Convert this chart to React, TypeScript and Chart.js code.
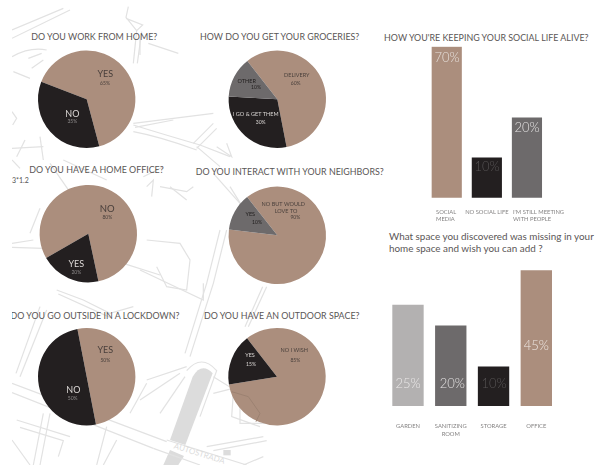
import React, { useEffect, useRef } from "react";
import { Chart, registerables } from "chart.js";

Chart.register(...registerables);

const TAN = "#ab8e7d";
const DARK = "#231f20";
const GREY = "#6d6a6b";
const LIGHT = "#b3b1b1";
const FONT = "Lato, 'Open Sans', sans-serif";

// Pie data: slice shares, printed labels as written in it
const workLabels = ["YES", "NO"];
const workShares = [65, 35];
const workPrinted = ["65%", "35%"];

const groceryLabels = ["DELIVERY", "I GO & GET THEM", "OTHER"];
const groceryShares = [57.5, 29, 13.5];
const groceryPrinted = ["60%", "30%", "10%"];

const officeLabels = ["NO", "YES"];
const officeShares = [80, 20];
const officePrinted = ["80%", "20%"];

const neighborLabels = ["NO BUT WOULD LOVE TO", "YES"];
const neighborShares = [87.5, 12.5];
const neighborPrinted = ["90%", "10%"];

const outsideLabels = ["YES", "NO"];
const outsideShares = [50, 50];
const outsidePrinted = ["50%", "50%"];

const outdoorLabels = ["NO I WISH", "YES"];
const outdoorShares = [83, 17];
const outdoorPrinted = ["85%", "15%"];

// Bar data
const socialCategories = [["SOCIAL", "MEDIA"], "NO SOCIAL LIFE", ["I'M STILL MEETING", "WITH PEOPLE"]];
const socialHeights = [70, 18.5, 37];
const socialPrinted = ["70%", "10%", "20%"];

const spaceCategories = ["GARDEN", ["SANITIZING", "ROOM"], "STORAGE", "OFFICE"];
const spaceHeights = [33.5, 26.6, 13, 45];
const spacePrinted = ["25%", "20%", "10%", "45%"];

type T = { text: string; x: number; y: number; size: number; color: string; weight?: number };

const textPlugin = {
  id: "pageText",
  afterDatasetsDraw(chart: any, _a: any, opts: any) {
    const ctx = chart.ctx;
    ctx.save();
    ctx.textAlign = "center";
    ctx.textBaseline = "middle";
    for (const t of (opts.items || []) as T[]) {
      ctx.font = `${t.weight || 400} ${t.size}px ${FONT}`;
      ctx.fillStyle = t.color;
      ctx.fillText(t.text, t.x, t.y);
    }
    ctx.restore();
  },
};

// Moves chosen axis labels so they start at the left edge the reference gives them
const tickLeftPlugin = {
  id: "tickLeft",
  beforeDraw(chart: any, _a: any, opts: any) {
    const lefts: (number | null)[] = opts.lefts || [];
    const items = chart.scales.x.getLabelItems();
    items.forEach((it: any, i: number) => {
      if (lefts[i] != null) {
        it.options.textAlign = "left";
        it.options.translation[0] = lefts[i];
      }
    });
  },
};

const INK = "#4a403c";
const PALE = "#dcd8d6";

function pie(cx: number, cy: number, rotation: number, labels: string[], data: number[], colors: string[], items: T[]) {
  const r = 48.7;
  return {
    type: "pie",
    data: { labels, datasets: [{ data, backgroundColor: colors, borderWidth: 0 }] },
    options: {
      animation: false,
      responsive: false,
      rotation,
      layout: { padding: { left: cx - r, top: cy - r, right: 600 - cx - r, bottom: 465 - cy - r } },
      plugins: { legend: { display: false }, tooltip: { enabled: false }, pageText: { items } },
    },
    plugins: [textPlugin],
  };
}

function bar(
  left: number, right: number, top: number, bottom: number, max: number, thickness: number,
  labels: any[], data: number[], colors: string[], tickPad: number, lefts: (number | null)[], items: T[]
) {
  const axisH = 30;
  return {
    type: "bar",
    data: { labels, datasets: [{ data, backgroundColor: colors, barThickness: thickness, borderWidth: 0 }] },
    options: {
      animation: false,
      responsive: false,
      layout: { padding: { left, top, right: 600 - right, bottom: 465 - bottom - axisH } },
      scales: {
        y: { display: false, min: 0, max },
        x: {
          grid: { display: false },
          border: { display: false },
          afterFit: (s: any) => { s.height = axisH; },
          ticks: {
            autoSkip: false, maxRotation: 0, minRotation: 0, padding: tickPad,
            color: "#858383", font: { family: FONT, size: 5.8, lineHeight: 1.25 },
          },
        },
      },
      plugins: { legend: { display: false }, tooltip: { enabled: false }, pageText: { items }, tickLeft: { lefts } },
    },
    plugins: [textPlugin, tickLeftPlugin],
  };
}

const configs: any[] = [
  pie(86.7, 99.3, 291, workLabels, workShares, [TAN, DARK], [
    { text: workLabels[0], x: 105.3, y: 74.3, size: 9, color: INK },
    { text: workPrinted[0], x: 105, y: 83.3, size: 5, color: INK },
    { text: workLabels[1], x: 72.3, y: 114, size: 9, color: PALE },
    { text: workPrinted[1], x: 72.3, y: 121.7, size: 5, color: "#8d8a8a" },
  ]),
  pie(277.3, 99.3, 322, groceryLabels, groceryShares, [TAN, DARK, GREY], [
    { text: groceryLabels[0], x: 296.7, y: 75, size: 5.5, color: INK },
    { text: groceryPrinted[0], x: 295.7, y: 83.3, size: 5, color: INK },
    { text: groceryLabels[1], x: 255.7, y: 114.3, size: 5.5, color: PALE },
    { text: groceryPrinted[1], x: 260.7, y: 122, size: 5, color: PALE },
    { text: groceryLabels[2], x: 246.7, y: 81, size: 5.5, color: "#1f1c1c" },
    { text: groceryPrinted[2], x: 256, y: 87.7, size: 5, color: "#1f1c1c" },
  ]),
  pie(88.3, 233.7, 240, officeLabels, officeShares, [TAN, DARK], [
    { text: officeLabels[0], x: 107.3, y: 208.7, size: 9.5, color: INK },
    { text: officePrinted[0], x: 107.3, y: 217.3, size: 5, color: INK },
    { text: officeLabels[1], x: 76.3, y: 264.3, size: 9, color: PALE },
    { text: officePrinted[1], x: 76.3, y: 272, size: 5, color: "#8d8a8a" },
  ]),
  pie(277.3, 235.3, 321.7, neighborLabels, neighborShares, [TAN, GREY], [
    { text: "NO BUT WOULD", x: 283.3, y: 204.3, size: 5.5, color: INK },
    { text: "LOVE TO", x: 286, y: 211.7, size: 5.5, color: INK },
    { text: neighborPrinted[0], x: 295.3, y: 217.7, size: 5, color: INK },
    { text: neighborLabels[1], x: 250.3, y: 214.3, size: 5.5, color: "#1f1c1c" },
    { text: neighborPrinted[1], x: 257, y: 222.7, size: 5, color: "#1f1c1c" },
  ]),
  pie(86.7, 376.7, 349, outsideLabels, outsideShares, [TAN, DARK], [
    { text: outsideLabels[0], x: 105.3, y: 350.3, size: 9, color: INK },
    { text: outsidePrinted[0], x: 105.3, y: 360, size: 5, color: INK },
    { text: outsideLabels[1], x: 73.3, y: 390.3, size: 9, color: PALE },
    { text: outsidePrinted[1], x: 72.7, y: 398.3, size: 5, color: "#8d8a8a" },
  ]),
  pie(277, 376.7, 322, outdoorLabels, outdoorShares, [TAN, DARK], [
    { text: outdoorLabels[0], x: 294.3, y: 350.3, size: 5.5, color: INK },
    { text: outdoorPrinted[0], x: 295.3, y: 360, size: 5, color: INK },
    { text: outdoorLabels[1], x: 250, y: 355, size: 5.5, color: PALE },
    { text: outdoorPrinted[1], x: 251, y: 364.3, size: 5, color: PALE },
  ]),
  bar(426.7, 547, 46.7, 197.7, 70, 29.5, socialCategories, socialHeights, [TAN, DARK, GREY], 3, [436, null, 513], [
    { text: socialPrinted[0], x: 447, y: 58, size: 13, color: "#e6dfda", weight: 300 },
    { text: socialPrinted[1], x: 487, y: 167, size: 13, color: "#565354", weight: 300 },
    { text: socialPrinted[2], x: 527, y: 128, size: 13, color: "#e2e0e0", weight: 300 },
  ]),
  bar(386.6, 557.7, 270.3, 406, 45, 30.7, spaceCategories, spaceHeights, [LIGHT, GREY, DARK, TAN], 9, [], [
    { text: spacePrinted[0], x: 408, y: 384, size: 13, color: "#e9e7e7", weight: 300 },
    { text: spacePrinted[1], x: 452.3, y: 384, size: 13, color: "#e2e0e0", weight: 300 },
    { text: spacePrinted[2], x: 494, y: 384, size: 13, color: "#565354", weight: 300 },
    { text: spacePrinted[3], x: 536.3, y: 345.7, size: 13, color: "#eee7e2", weight: 300 },
  ]),
];

const titles = [
  { text: "DO YOU WORK FROM HOME?", cx: 94.3, y: 36 },
  { text: "HOW DO YOU GET YOUR GROCERIES?", cx: 279.7, y: 36 },
  { text: "DO YOU HAVE A HOME OFFICE?", cx: 96.5, y: 169.3 },
  { text: "DO YOU INTERACT WITH YOUR NEIGHBORS?", cx: 289.7, y: 171 },
  { text: "DO YOU GO OUTSIDE IN A LOCKDOWN?", cx: 95, y: 315.3 },
  { text: "DO YOU HAVE AN OUTDOOR SPACE?", cx: 281.7, y: 315.3 },
  { text: "HOW YOU'RE KEEPING YOUR SOCIAL LIFE ALIVE?", cx: 486.3, y: 36.7 },
];

// Background street map, traced in 3x coordinates
const roads = [
  "M36 90 L190 25", "M36 115 L210 30", "M385 20 L378 52 L410 92 L428 75 L378 55", "M410 92 L400 190", "M425 95 L412 190",
  "M36 170 Q90 140 140 150", "M85 175 L125 160", "M95 205 L130 180", "M40 215 L90 235", "M445 130 L535 160", "M420 165 L420 110",
  "M400 370 L640 340", "M405 382 L520 360", "M400 375 Q480 400 600 435 L690 470", "M400 395 Q480 410 590 450",
  "M580 430 L640 370", "M590 445 L650 385", "M590 440 L660 500", "M650 440 L695 470 L680 430",
  "M36 445 L130 440", "M50 470 L75 420", "M120 410 L130 480", "M36 335 L50 355 L38 375", "M36 480 L60 505",
  "M150 490 L240 620", "M190 480 L320 540", "M480 560 L560 575 L580 560", "M510 560 L560 600", "M440 560 L460 540 L455 590",
  "M430 530 L490 500", "M640 520 L720 610 L700 700", "M690 560 L740 640", "M90 700 L120 625",
  "M680 690 L640 850 L570 1070", "M660 690 L620 850 L555 1060", "M800 860 L745 980", "M788 860 L735 980",
  "M36 730 L100 720", "M36 742 L130 745", "M370 790 L480 825", "M440 720 L540 730 L570 780 L560 870 L500 860 L470 800",
  "M420 810 L610 900 L610 850", "M170 870 L250 900 L330 940 L400 920", "M175 882 L330 952",
  "M36 1150 L500 1325", "M36 1178 L460 1345", "M500 1320 L740 1395", "M460 1345 L600 1395",
  "M140 930 L60 1130", "M120 920 L48 1120", "M130 1240 L100 1395", "M150 1240 L120 1395",
  "M50 1260 L210 1310", "M60 1282 L190 1322 L175 1370", "M320 1280 L290 1395", "M350 1320 L310 1395",
  "M560 1112 Q605 1060 650 1112 L600 1250", "M440 1140 L560 1100", "M420 1200 L540 1120", "M480 1240 L555 1130", "M640 1180 L720 1160",
  "M640 1130 L720 1180 L720 1270 L800 1270", "M700 1180 L695 1250 L780 1280", "M620 1340 L790 1310", "M640 1352 L800 1322",
  "M730 1395 L790 1370", "M36 1320 L90 1395", "M390 1240 L440 1150",
];
const blocks = ["M578 1130 Q605 1085 638 1120 L556 1335 L510 1320 Z", "M490 1395 L510 1350 L552 1368 L535 1395 Z", "M670 1350 L692 1350 L692 1366 L670 1366 Z"];
const overPie = "M695 1175 L745 1190 L780 1240 L768 1265";

export default function App() {
  const refs = useRef<(HTMLCanvasElement | null)[]>([]);
  useEffect(() => {
    const charts = configs.map((c, i) => new Chart(refs.current[i] as HTMLCanvasElement, c));
    return () => charts.forEach((c) => c.destroy());
  }, []);
  const titleStyle: React.CSSProperties = {
    position: "absolute", transform: "translate(-50%,-50%)", whiteSpace: "nowrap",
    fontFamily: FONT, fontSize: 8.9, color: "#5a5656",
  };
  const full: React.CSSProperties = { position: "absolute", left: 0, top: 0, width: 600, height: 465 };
  return (
    <div style={{ ...full, overflow: "hidden", background: "#fff", filter: "blur(0.5px)" }}>
      <div style={{ position: "absolute", left: 12, top: 0, width: 378, height: 465, overflow: "hidden" }}>
        <svg width={378} height={465} viewBox="36 0 1134 1395" style={{ position: "absolute", left: 0, top: 0 }}>
          {blocks.map((d, i) => <path key={i} d={d} fill="#dcdcdc" />)}
          {roads.map((d, i) => <path key={i} d={d} fill="none" stroke="#e2e2e2" strokeWidth={3.6} />)}
          <text x={520} y={1345} transform="rotate(17 520 1345)" fontFamily={FONT} fontSize={24} fill="#dcdcdc">AUTOSTRADA</text>
        </svg>
        {titles.slice(0, 6).map((t, i) => (
          <div key={i} style={{ ...titleStyle, left: t.cx - 12, top: t.y }}>{t.text}</div>
        ))}
        <div style={{ position: "absolute", left: 0, top: 176, fontFamily: FONT, fontSize: 7, color: "#555" }}>3*1.2</div>
      </div>
      <div style={{ ...titleStyle, left: titles[6].cx, top: titles[6].y }}>{titles[6].text}</div>
      <div style={{ position: "absolute", left: 389, top: 231, whiteSpace: "nowrap", fontFamily: FONT, fontSize: 9.9, lineHeight: "11.6px", color: "#5a5656" }}>
        What space you discovered was missing in your<br />home space and wish you can add ?
      </div>
      {configs.map((_, i) => (
        <canvas key={i} width={600} height={465} ref={(el) => { refs.current[i] = el; }} style={full} />
      ))}
      <svg width={378} height={465} viewBox="36 0 1134 1395" style={{ position: "absolute", left: 12, top: 0 }}>
        <path d={overPie} fill="none" stroke="#9c8272" strokeWidth={3} />
      </svg>
    </div>
  );
}
